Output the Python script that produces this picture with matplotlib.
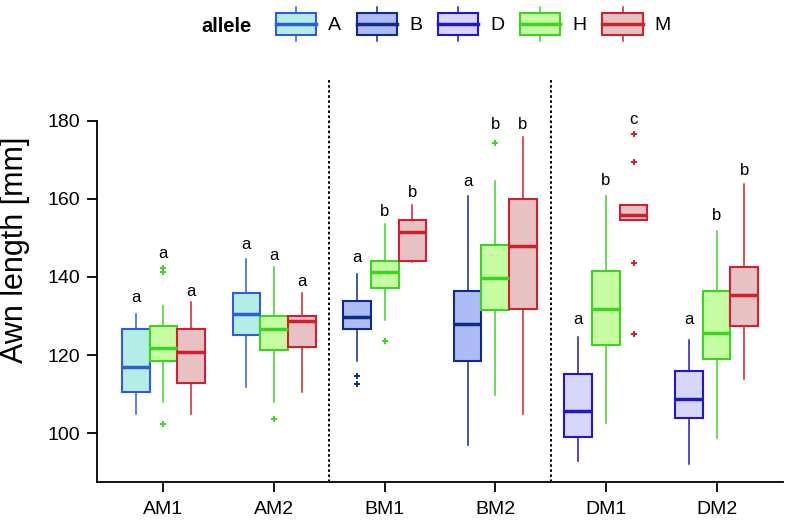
import matplotlib
matplotlib.use("Agg")
import matplotlib.pyplot as plt
from matplotlib.patches import Patch, Rectangle
from matplotlib.lines import Line2D
from matplotlib.legend_handler import HandlerBase

plt.rcParams['font.family'] = ['Liberation Sans', 'DejaVu Sans']

# ---------------- data ----------------
groups = ['AM1', 'AM2', 'BM1', 'BM2', 'DM1', 'DM2']
alleles = [['A', 'H', 'M'], ['A', 'H', 'M'], ['B', 'H', 'M'],
           ['B', 'H', 'M'], ['D', 'H', 'M'], ['D', 'H', 'M']]

whislo = [[104.9, 107.9, 104.9], [111.9, 107.9, 110.6], [118.6, 129.0, 143.9],
          [96.9, 109.9, 104.9], [92.9, 102.7, 154.5], [92.1, 98.7, 113.8]]
q1 = [[110.6, 118.6, 112.8], [125.1, 121.3, 122.1], [126.6, 137.2, 144.2],
      [118.6, 131.5, 131.8], [99.1, 122.5, 154.5], [103.9, 119.1, 127.4]]
med = [[116.9, 121.7, 120.8], [130.6, 126.6, 128.8], [129.7, 141.2, 151.4],
       [127.9, 139.8, 147.9], [105.7, 131.9, 155.8], [108.8, 125.6, 135.4]]
q3 = [[126.6, 127.4, 126.6], [135.9, 130.1, 130.1], [133.8, 144.2, 154.5],
      [136.3, 148.2, 159.9], [115.1, 141.6, 158.5], [115.9, 136.3, 142.5]]
whishi = [[130.5, 132.6, 133.5], [144.6, 142.5, 135.8], [140.7, 153.5, 158.4],
          [160.6, 164.6, 175.7], [124.7, 160.6, 158.5], [123.8, 151.7, 163.7]]
fliers = [[[], [102.4, 141.2, 142.2], []],
          [[], [103.7], []],
          [[112.6, 114.6], [123.7], []],
          [[], [174.2], []],
          [[], [], [125.4, 143.6, 169.3, 176.5]],
          [[], [], []]]

letters = [['a', 'a', 'a'], ['a', 'a', 'a'], ['a', 'b', 'b'],
           ['a', 'b', 'b'], ['a', 'b', 'c'], ['a', 'b', 'b']]
letter_y = [[134.7, 146.1, 136.2], [148.2, 145.6, 138.8], [144.9, 156.7, 161.7],
            [164.3, 179.1, 179.1], [129.2, 164.6, 180.4], [129.2, 155.7, 167.2]]

legend_alleles = ['A', 'B', 'D', 'H', 'M']
face_colors = {'A': '#b3ede6', 'B': '#adbcf5', 'D': '#d9d6fb',
               'H': '#c6fca2', 'M': '#e7c1c3'}
edge_colors = {'A': '#2f5be0', 'B': '#0d2b8a', 'D': '#2016cc',
               'H': '#3cd420', 'M': '#d0202f'}

yticks = [100, 120, 140, 160, 180]

# ---------------- figure ----------------
fig = plt.figure(figsize=(7.86, 5.23), dpi=100)
ax = fig.add_axes([97 / 786, 1 - 481.7 / 523, 686 / 786, (481.7 - 78) / 523])

offsets = [-0.25, 0.0, 0.25]
for gi, g in enumerate(groups):
    for k in range(3):
        al = alleles[gi][k]
        fc, ec = face_colors[al], edge_colors[al]
        st = dict(whislo=whislo[gi][k], q1=q1[gi][k], med=med[gi][k],
                  q3=q3[gi][k], whishi=whishi[gi][k], fliers=fliers[gi][k])
        ax.bxp([st], positions=[gi + offsets[k]], widths=0.25,
               patch_artist=True, showcaps=False, manage_ticks=False,
               boxprops=dict(facecolor=fc, edgecolor=ec, linewidth=1.5),
               whiskerprops=dict(color=ec, linewidth=1.1),
               medianprops=dict(color=ec, linewidth=2.5, solid_capstyle='butt'),
               flierprops=dict(marker='+', markeredgecolor=ec,
                               markersize=4, markeredgewidth=1.4))
        ax.text(gi + offsets[k], letter_y[gi][k], letters[gi][k],
                ha='center', va='center', fontsize=12, color='black')

for xv in [1.5, 3.5]:
    ax.axvline(xv, color='black', linestyle=(0, (1.3, 1.3)), linewidth=1.4)

ax.set_xlim(-0.6, 5.6)
ax.set_ylim(87.6, 190.9)
ax.set_xticks(range(len(groups)))
ax.set_xticklabels(groups)
ax.set_yticks(yticks)
ax.spines['top'].set_visible(False)
ax.spines['right'].set_visible(False)
ax.spines['left'].set_bounds(87.6, 180)
for s in ['left', 'bottom']:
    ax.spines[s].set_linewidth(1.3)
ax.tick_params(axis='both', direction='out', length=7.2, width=1.3,
               labelsize=14)
ax.tick_params(axis='y', pad=5)
ax.tick_params(axis='x', pad=7)
ax.set_ylabel('Awn length [mm]', fontsize=22)
ax.yaxis.set_label_coords(-0.098, 0.575)


class BoxHandler(HandlerBase):
    def create_artists(self, legend, orig_handle, xdescent, ydescent,
                       width, height, fontsize, trans):
        fc = orig_handle.get_facecolor()
        ec = orig_handle.get_edgecolor()
        x0, y0 = -xdescent, -ydescent
        bh = height * 0.66
        by = y0 + (height - bh) / 2
        rect = Rectangle((x0, by), width, bh, facecolor=fc, edgecolor=ec,
                         linewidth=1.5, transform=trans)
        m = Line2D([x0, x0 + width], [y0 + height / 2] * 2, color=ec,
                   linewidth=2.5, transform=trans)
        w1 = Line2D([x0 + width / 2] * 2, [y0, by], color=ec,
                    linewidth=1.1, transform=trans)
        w2 = Line2D([x0 + width / 2] * 2, [by + bh, y0 + height], color=ec,
                    linewidth=1.1, transform=trans)
        return [w1, w2, rect, m]


handles = [Patch(facecolor=face_colors[a], edgecolor=edge_colors[a], label=a)
           for a in legend_alleles]
fig.legend(handles=handles, handler_map={Patch: BoxHandler()},
           loc='center left', bbox_to_anchor=(276 / 786, 1 - 24 / 523),
           ncol=5, frameon=False, fontsize=14, handlelength=2.06,
           handleheight=2.26, handletextpad=0.62, columnspacing=0.82,
           borderpad=0, borderaxespad=0)
fig.text(226 / 786, 1 - 26 / 523, 'allele', fontsize=14.5, fontweight='bold',
         ha='center', va='center')

fig.savefig('out.png', dpi=100)
